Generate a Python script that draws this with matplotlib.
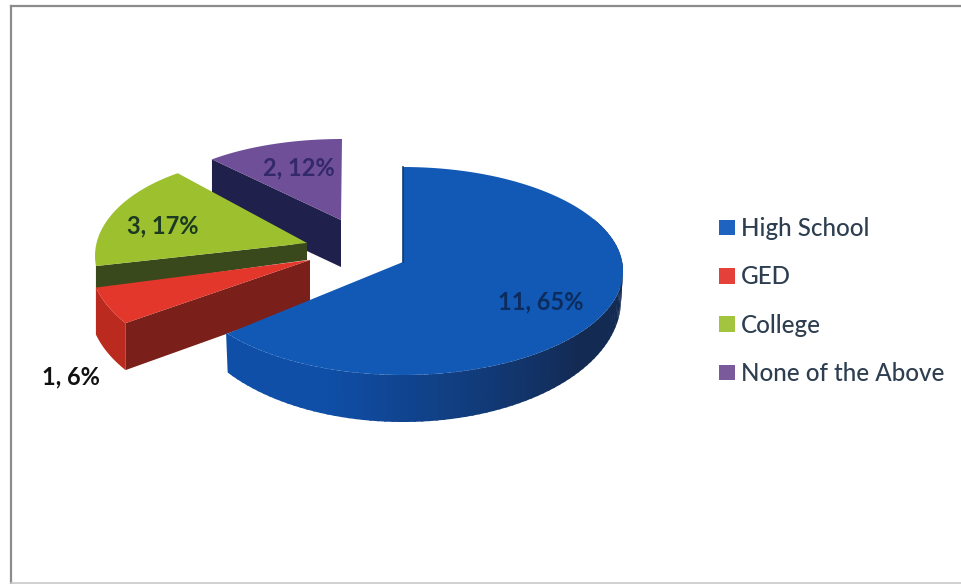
import numpy as np
import matplotlib
matplotlib.use("Agg")
import matplotlib.pyplot as plt
from matplotlib.patches import Patch
from matplotlib.colors import to_rgb

categories = ["High School", "GED", "College", "None of the Above"]
counts = [11, 1, 3, 2]
percents = [65, 6, 17, 12]

top_colors = ["#1259b5", "#e2372a", "#9cc02e", "#6e4f98"]
face_colors = ["#0f4a9e", "#7a1f1a", "#39491c", "#20204c"]
rim_colors = ["#0f4fa8", "#bb2a1f", None, None]
legend_colors = ["#1f63c0", "#e5413a", "#a3c43f", "#7a5a9a"]
label_colors = ["#0d2c5e", "#111111", "#1c3a22", "#33286a"]

# Geometry of the projected slices (pixels): centre, radii, apex, depth
ellipse_cx = [403, 270, 273, 342]
ellipse_cy = [271, 258, 256, 217]
radius_x = [220, 181, 178, 193]
radius_y = [104, 108, 98, 78]
apex_x = [403, 310, 307, 341]
apex_y = [262, 260, 243, 220]
view_rot = [0, 0, 10, 0]
rim_depth = [0, 47, 23, 47]
apex_depth = [0, 44, 17, 47]
label_x = [541, 71, 163, 299]
label_y = [302, 377, 226, 168]

# Blue slice's base ellipse
base_cx, base_cy, base_rx, base_ry = 403, 300, 218, 122

fig = plt.figure(figsize=(9.61, 5.84), dpi=100, facecolor="white")
ax = fig.add_axes([0, 0, 1, 1])
ax.set_xlim(0, 961)
ax.set_ylim(584, 0)
ax.axis("off")

# scan frame
ax.plot([11, 961], [6, 6], color="#8c8c8c", lw=1.6, zorder=1)
ax.plot([11, 11], [6, 584], color="#8c8c8c", lw=1.6, zorder=1)
ax.plot([11, 961], [582.5, 582.5], color="#c8c8c8", lw=1.2, zorder=1)

total = sum(counts)
edges = np.concatenate([[0], np.cumsum(counts)]) / total * 360.0


def rim(i, deg):
    t = np.radians(np.asarray(deg, float) + view_rot[i])
    return (ellipse_cx[i] + radius_x[i] * np.sin(t),
            ellipse_cy[i] - radius_y[i] * np.cos(t))


z = 2
for i in [3, 2, 1, 0]:
    a0, a1 = edges[i], edges[i + 1]
    th = np.linspace(a0, a1, 120)
    x, y = rim(i, th)
    if i == 0:
        # curved outer wall, darkening toward the right
        wall = np.linspace(60, a1, 90)
        dark, lit = np.array(to_rgb("#132a52")), np.array(to_rgb(rim_colors[0]))
        for p, q in zip(wall[:-1], wall[1:]):
            s = np.linspace(p, q + 0.6, 4)
            tx, ty = rim(0, s)
            bt = np.radians(s)
            bx = base_cx + base_rx * np.sin(bt)
            by = base_cy - base_ry * np.cos(bt)
            f = np.clip((p - 125) / 75, 0, 1)
            ax.fill(np.r_[tx, bx[::-1]], np.r_[ty, by[::-1]],
                    color=dark + (lit - dark) * f, lw=0, zorder=z)
            z += 0.001
    else:
        if rim_colors[i]:
            ax.fill(np.r_[x, x[::-1]], np.r_[y, y[::-1] + rim_depth[i]],
                    color=rim_colors[i], lw=0, zorder=z)
        cx, cy = x[0], y[0]
        ax.fill([cx, apex_x[i], apex_x[i], cx],
                [cy, apex_y[i], apex_y[i] + apex_depth[i], cy + rim_depth[i]],
                color=face_colors[i], lw=0, zorder=z + 0.1)
    ax.fill(np.r_[apex_x[i], x], np.r_[apex_y[i], y],
            color=top_colors[i], lw=0, zorder=z + 0.2)
    if i == 0:
        ex, ey = rim(0, a0)
        ax.plot([ex, apex_x[0]], [ey, apex_y[0]], color="#123a70", lw=1.2,
                zorder=z + 0.3)
    z += 1

for i in range(4):
    ax.text(label_x[i], label_y[i], f"{counts[i]}, {percents[i]}%",
            ha="center", va="center", fontsize=17, family="Lato",
            weight="bold", color=label_colors[i], zorder=20)

handles = [Patch(facecolor=c, edgecolor="none", label=n)
           for c, n in zip(legend_colors, categories)]
leg = ax.legend(handles=handles, loc="upper left",
                bbox_to_anchor=(719 / 961, 1 - 217 / 584),
                frameon=False, borderpad=0, borderaxespad=0,
                prop={"family": "Lato", "size": 17.4, "weight": "medium"},
                handlelength=0.68, handleheight=0.62, handletextpad=0.22,
                labelspacing=1.05, labelcolor="#2d3e50")

fig.savefig("out.png", dpi=100, facecolor="white")
